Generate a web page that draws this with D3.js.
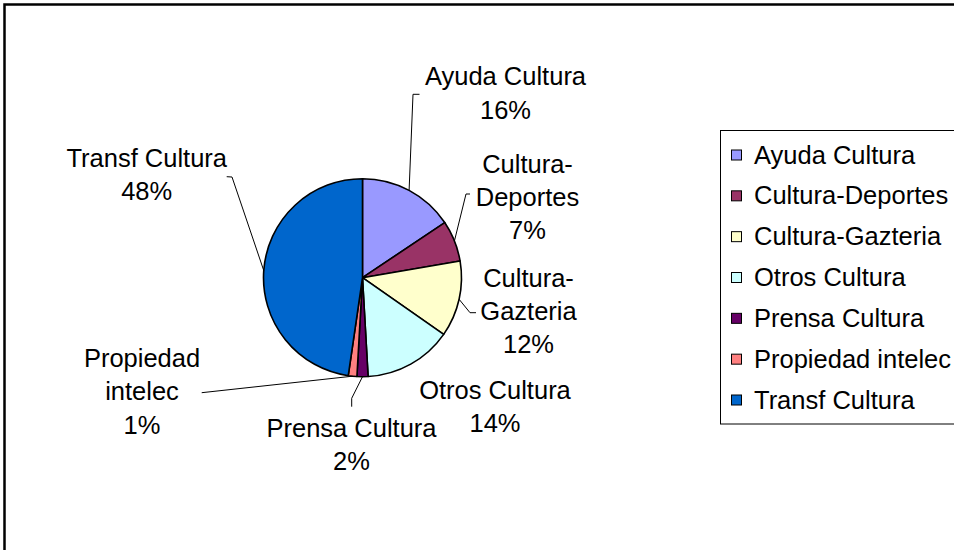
<!DOCTYPE html>
<html><head><meta charset="utf-8">
<script src="https://cdn.jsdelivr.net/npm/d3@7"></script>
<style>body{margin:0;background:#fff}svg{display:block}text{font-family:"Liberation Sans",Arial,sans-serif;fill:#000}</style>
</head><body><svg id="c" width="954" height="550"></svg>
<script>
const categories = ["Ayuda Cultura","Cultura-Deportes","Cultura-Gazteria","Otros Cultura","Prensa Cultura","Propiedad intelec","Transf Cultura"];
const values = [15.6, 6.7, 12.4, 14.4, 1.8, 1.4, 47.7];
const percentLabels = ["16%","7%","12%","14%","2%","1%","48%"];
const labelLines = [["Ayuda Cultura"],["Cultura-","Deportes"],["Cultura-","Gazteria"],["Otros Cultura"],["Prensa Cultura"],["Propiedad","intelec"],["Transf Cultura"]];
const colors = ["#9999FF","#993366","#FFFFCC","#CCFFFF","#660066","#FF8080","#0066CC"];

// layout (label anchor offsets relative to pie centre, and leader-line elbows)
const cx = 362.5, cy = 277.7, R = 99;
const labelLayout = [
  {x:143, y:-192.5, lead:[[57,-183.4],[50.5,-183.4]]},
  {x:165, y:-105, lead:[[107.5,-83.7],[103.5,-83.7]]},
  {x:166, y:9, lead:[[113.5,35],[107.5,35]]},
  {x:132.5, y:121, lead:null},
  {x:-11, y:159.5, lead:[[-10.8,129],[-10.8,120.6]]},
  {x:-220.5, y:89.5, lead:[[-160.8,115]]},
  {x:-215.8, y:-111.2, lead:[[-135.8,-101],[-130.5,-100.7]]}
];

const svg = d3.select("#c");
svg.append("rect").attr("x",4.5).attr("y",4.5).attr("width",1000).attr("height",600)
  .attr("fill","#fff").attr("stroke","#000").attr("stroke-width",2.5);

const pie = d3.pie().sort(null).value(d=>d);
const arcs = pie(values);
const arc = d3.arc().innerRadius(0).outerRadius(R);
const edge = d3.arc().innerRadius(R).outerRadius(R);
const g = svg.append("g").attr("transform",`translate(${cx},${cy})`);
g.selectAll("path.s").data(arcs).join("path").attr("class","s")
  .attr("d",arc).attr("fill",(d,i)=>colors[i]).attr("stroke","#000").attr("stroke-width",1.6).attr("stroke-linejoin","round");

// leader lines
arcs.forEach((a,i)=>{
  const L = labelLayout[i];
  if(!L.lead) return;
  const p = edge.centroid(a);
  const pts = [p, ...L.lead.slice().reverse()];
  g.append("path").attr("d", d3.line()(pts)).attr("fill","none").attr("stroke","#000").attr("stroke-width",1);
});

// data labels
const fs = 25.5, lh = 33.3;
arcs.forEach((a,i)=>{
  const L = labelLayout[i];
  const lines = labelLines[i].concat([percentLabels[i]]);
  const t = g.append("text").attr("text-anchor","middle").attr("font-size",fs);
  lines.forEach((s,j)=>t.append("tspan").attr("x",L.x).attr("y",L.y+j*lh).text(s));
});

// legend
const lg = svg.append("g");
lg.append("rect").attr("x",720.5).attr("y",130.5).attr("width",300).attr("height",293.5)
  .attr("fill","#fff").attr("stroke","#000").attr("stroke-width",1);
const ly = d3.scalePoint().domain(categories).range([155,400]);
categories.forEach((c,i)=>{
  const y = ly(c);
  lg.append("rect").attr("x",731.5).attr("y",y-5).attr("width",10).attr("height",10)
    .attr("fill",colors[i]).attr("stroke","#000").attr("stroke-width",1);
  lg.append("text").attr("x",754).attr("y",y+8.5).attr("font-size",fs).text(c);
});
</script></body></html>
